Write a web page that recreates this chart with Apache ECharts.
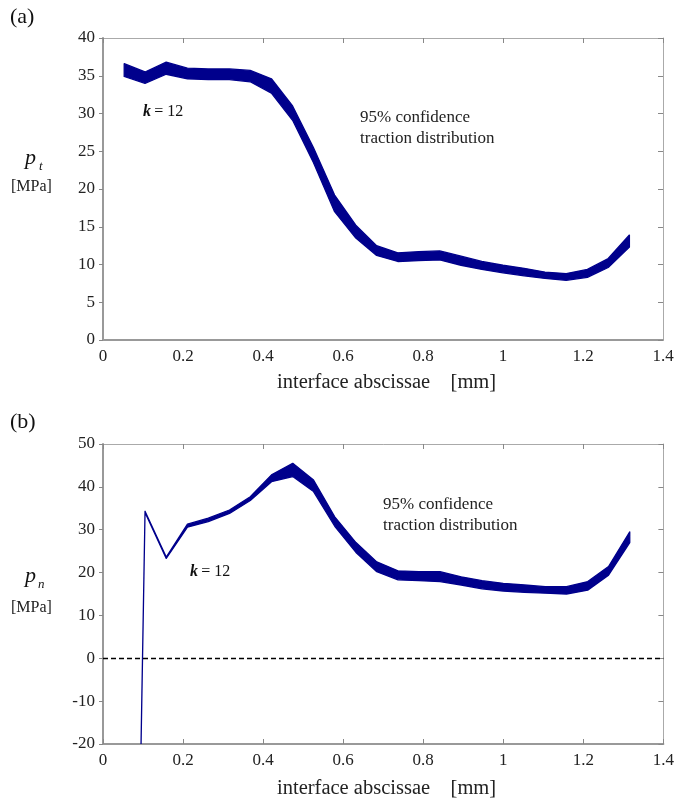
<!DOCTYPE html>
<html>
<head>
<meta charset="utf-8">
<script src="https://cdn.jsdelivr.net/npm/echarts@6/dist/echarts.min.js"></script>
<style>
html,body{margin:0;padding:0;background:#fff;}
#c{width:677px;height:803px;}
</style>
</head>
<body>
<div id="c"></div>
<script>
// abscissae [mm]
var xs = [0.053, 0.105, 0.158, 0.211, 0.263, 0.316, 0.368, 0.421, 0.474, 0.526, 0.579, 0.632, 0.684, 0.737, 0.789, 0.842, 0.895, 0.947, 1.0, 1.053, 1.105, 1.158, 1.211, 1.263, 1.316];
// (a) tangential traction band
var ptUpper = [36.6, 35.5, 36.8, 36.0, 35.9, 35.9, 35.7, 34.6, 31.0, 25.5, 19.2, 15.2, 12.5, 11.55, 11.7, 11.8, 11.1, 10.4, 9.9, 9.5, 9.0, 8.8, 9.35, 10.8, 13.9];
var ptLower = [34.9, 34.0, 35.2, 34.6, 34.5, 34.5, 34.2, 32.7, 29.1, 23.5, 17.0, 13.5, 11.2, 10.4, 10.5, 10.6, 9.9, 9.35, 8.9, 8.5, 8.15, 7.9, 8.3, 9.6, 12.3];
// (b) normal traction band
var pnUpper = [-249, 34.3, 23.6, 31.3, 32.7, 34.6, 37.7, 42.8, 45.5, 41.6, 33.0, 27.0, 22.5, 20.4, 20.2, 20.2, 19.0, 18.1, 17.5, 17.1, 16.7, 16.7, 17.9, 21.4, 29.5];
var pnLower = [-250, 34.0, 23.3, 30.6, 31.9, 33.8, 36.8, 41.2, 42.4, 38.9, 30.8, 24.7, 20.2, 18.3, 18.1, 17.9, 17.1, 16.2, 15.7, 15.4, 15.2, 15.0, 15.9, 19.4, 27.0];

var BAND = '#00008c';
var SERIF = '"Liberation Serif", "DejaVu Serif", serif';

function bandData(u, l){ return xs.map(function(x,i){ return [x, l[i], u[i]]; }); }

function bottomX(gi, showTicks){
  return {type:'value', gridIndex:gi, position:'bottom', min:0, max:1.4, interval:0.2,
    axisLine:{show:true, onZero:false, lineStyle:{color:'#999', width:2}},
    axisTick:{show:showTicks, inside:true, length:5, lineStyle:{color:'#888'}},
    splitLine:{show:false},
    axisLabel:{color:'#222', fontFamily:SERIF, fontSize:17, margin:8,
      formatter:function(v){ return String(+v.toFixed(1)); }}};
}
function topX(gi){
  return {type:'value', gridIndex:gi, position:'top', min:0, max:1.4, interval:0.2,
    axisLine:{show:true, onZero:false, lineStyle:{color:'#aaa', width:1}},
    axisTick:{show:true, inside:true, length:5, lineStyle:{color:'#888'}},
    splitLine:{show:false}, axisLabel:{show:false}};
}
function leftY(gi, mn, mx, iv){
  return {type:'value', gridIndex:gi, position:'left', min:mn, max:mx, interval:iv,
    axisLine:{show:true, onZero:false, lineStyle:{color:'#999', width:2}},
    axisTick:{show:true, inside:false, length:4, lineStyle:{color:'#888'}},
    splitLine:{show:false},
    axisLabel:{color:'#222', fontFamily:SERIF, fontSize:17, margin:8}};
}
function rightY(gi, mn, mx, iv){
  return {type:'value', gridIndex:gi, position:'right', min:mn, max:mx, interval:iv,
    axisLine:{show:true, onZero:false, lineStyle:{color:'#aaa', width:1}},
    axisTick:{show:true, inside:true, length:5, lineStyle:{color:'#888'}},
    splitLine:{show:false}, axisLabel:{show:false}};
}

// band drawn as one polygon: lower edge forward, upper edge backward, mapped through the axes
function makeBand(xi, yi, data){
  return {
    type:'custom', xAxisIndex:xi, yAxisIndex:yi, clip:true, silent:true,
    data:data,
    encode:{x:0, y:[1,2]},
    renderItem:function(params, api){
      if (params.dataIndex !== 0) return null;
      var lowerPts = [], upperPts = [];
      for (var i = 0; i < data.length; i++) {
        lowerPts.push(api.coord([data[i][0], data[i][1]]));
        upperPts.push(api.coord([data[i][0], data[i][2]]));
      }
      var pts = lowerPts.concat(upperPts.reverse());
      return {type:'polygon', shape:{points:pts},
        style:{fill:BAND, stroke:BAND, lineWidth:1.3, lineJoin:'round'}};
    }
  };
}

var chart = echarts.init(document.getElementById('c'), null, {renderer:'canvas'});

chart.setOption({
  animation:false,
  backgroundColor:'#fff',
  grid:[
    {left:103, top:38, width:560, height:302, containLabel:false},
    {left:103, top:444, width:561, height:300, containLabel:false}
  ],
  xAxis:[bottomX(0,false), topX(0), bottomX(1,true), topX(1)],
  yAxis:[leftY(0,0,40,5), rightY(0,0,40,5), leftY(1,-20,50,10), rightY(1,-20,50,10)],
  series:[
    makeBand(0, 0, bandData(ptUpper, ptLower)),
    makeBand(2, 2, bandData(pnUpper, pnLower)),
    {type:'line', xAxisIndex:2, yAxisIndex:2, data:[], symbol:'none', silent:true,
      markLine:{silent:true, symbol:'none', label:{show:false},
        lineStyle:{color:'#000', type:[5,3], width:1.3},
        data:[{yAxis:0}]}}
  ],
  graphic:[
    {type:'text', left:10, top:6, style:{text:'(a)', font:'22px '+SERIF, fill:'#111'}},
    {type:'text', left:10, top:411, style:{text:'(b)', font:'22px '+SERIF, fill:'#111'}},
    {type:'text', left:25, top:147, style:{text:'p', font:'italic 22px '+SERIF, fill:'#111'}},
    {type:'text', left:39, top:160, style:{text:'t', font:'italic 13px '+SERIF, fill:'#111'}},
    {type:'text', left:11, top:179, style:{text:'[MPa]', font:'16px '+SERIF, fill:'#222'}},
    {type:'text', left:25, top:565, style:{text:'p', font:'italic 22px '+SERIF, fill:'#111'}},
    {type:'text', left:38, top:578, style:{text:'n', font:'italic 13px '+SERIF, fill:'#111'}},
    {type:'text', left:11, top:600, style:{text:'[MPa]', font:'16px '+SERIF, fill:'#222'}},
    {type:'text', left:143, top:104, style:{rich:{k:{font:'bold italic 16px '+SERIF, fill:'#111'}, r:{font:'16px '+SERIF, fill:'#111'}}, text:'{k|k} {r|= 12}'}},
    {type:'text', left:190, top:564, style:{rich:{k:{font:'bold italic 16px '+SERIF, fill:'#111'}, r:{font:'16px '+SERIF, fill:'#111'}}, text:'{k|k} {r|= 12}'}},
    {type:'text', left:360, top:107, style:{text:'95% confidence\ntraction distribution', font:'17px '+SERIF, fill:'#222', lineHeight:21}},
    {type:'text', left:383, top:494, style:{text:'95% confidence\ntraction distribution', font:'17px '+SERIF, fill:'#222', lineHeight:21}},
    {type:'text', left:277, top:372, style:{text:'interface abscissae    [mm]', font:'20.5px '+SERIF, fill:'#222'}},
    {type:'text', left:277, top:778, style:{text:'interface abscissae    [mm]', font:'20.5px '+SERIF, fill:'#222'}}
  ]
});
</script>
</body>
</html>
